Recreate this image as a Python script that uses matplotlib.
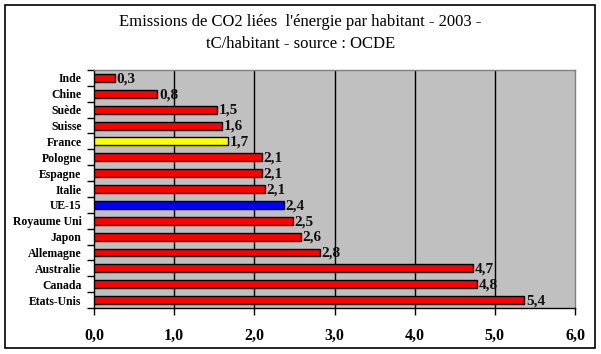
import matplotlib
matplotlib.use("Agg")
import matplotlib.pyplot as plt
from matplotlib.patches import Rectangle
import numpy as np

categories = ["Inde", "Chine", "Suède", "Suisse", "France", "Pologne", "Espagne",
              "Italie", "UE-15", "Royaume Uni", "Japon", "Allemagne", "Australie",
              "Canada", "Etats-Unis"]
values = [0.26, 0.79, 1.53, 1.6, 1.67, 2.09, 2.09, 2.13, 2.37, 2.48, 2.58, 2.82,
          4.73, 4.78, 5.37]
labels = ["0,3", "0,8", "1,5", "1,6", "1,7", "2,1", "2,1", "2,1", "2,4", "2,5",
          "2,6", "2,8", "4,7", "4,8", "5,4"]
colors = ["#FF0000"] * 4 + ["#FFFF00"] + ["#FF0000"] * 3 + ["#0000FF"] + ["#FF0000"] * 6
xticks = [0, 1, 2, 3, 4, 5, 6]
xtick_labels = ["0,0", "1,0", "2,0", "3,0", "4,0", "5,0", "6,0"]
title = "Emissions de CO2 liées  l'énergie par habitant - 2003 -\ntC/habitant - source : OCDE"

plt.rcParams['font.family'] = ['Liberation Serif', 'DejaVu Serif']

fig = plt.figure(figsize=(6.01, 3.54), dpi=100)
fig.patches.append(Rectangle((5/601, 1-348/354), 590/601, 343/354, transform=fig.transFigure,
                             fill=False, edgecolor='black', linewidth=1.2))

ax = fig.add_axes([94/601, 1-308/354, (575-94)/601, (308-70)/354])
ax.set_facecolor('#C0C0C0')
n = len(categories)
y = np.arange(n)
ax.barh(y, values, height=0.5, color=colors, edgecolor='black', linewidth=1, zorder=3)
for yi, v, lab in zip(y, values, labels):
    ax.text(v + 0.02, yi + 0.05, lab, va='center', ha='left', fontsize=11,
            fontweight='bold', color='#111111', zorder=4)

ax.set_xlim(0, 6)
ax.set_ylim(n - 0.5, -0.5)
ax.set_xticks(xticks)
ax.set_xticklabels(xtick_labels, fontsize=11.5, fontweight='bold')
ax.set_yticks(y)
ax.set_yticklabels(categories, fontsize=8.5, fontweight='bold')
ax.set_yticks(np.arange(-0.5, n, 1), minor=True)
ax.tick_params(axis='y', which='major', length=0, pad=9)
ax.tick_params(axis='y', which='minor', length=5, width=1, direction='out')
ax.tick_params(axis='x', which='major', length=5, width=1, direction='out', pad=9)
for xv in xticks[1:-1]:
    ax.axvline(xv, color='black', linewidth=1, zorder=1)
for s in ['left', 'bottom']:
    ax.spines[s].set_color('black')
    ax.spines[s].set_linewidth(1)
for s in ['top', 'right']:
    ax.spines[s].set_color('#808080')
    ax.spines[s].set_linewidth(1)

fig.text(0.5, 1 - 33/354, title, ha='center', va='center', fontsize=12, linespacing=1.55)

fig.savefig("out.png", dpi=100)
